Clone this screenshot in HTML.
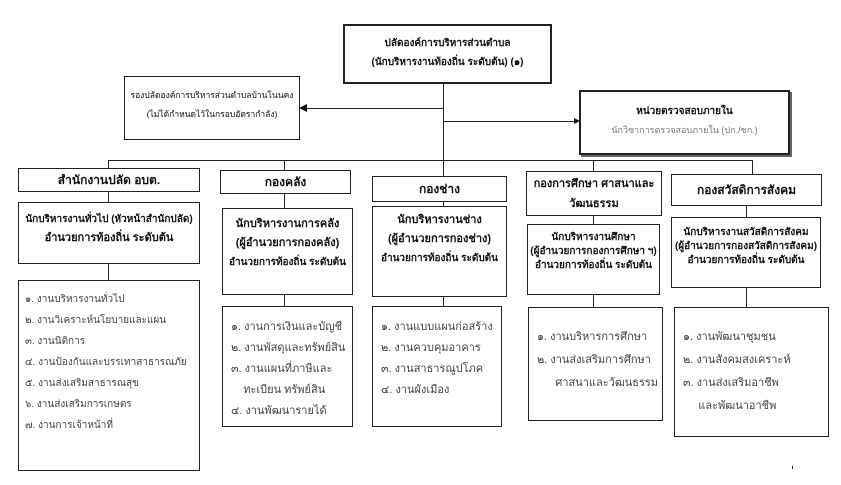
<!DOCTYPE html>
<html><head><meta charset="utf-8"><style>
body{margin:0;width:841px;height:485px;background:#fff;position:relative;overflow:hidden;font-family:"Liberation Sans","DejaVu Sans",sans-serif;color:#111}
.b{position:absolute;border:1.3px solid #222;box-sizing:border-box;background:#fff;text-align:center}
.l{position:absolute;background:#222}
.h{font-weight:bold;font-size:12px}
.t{font-size:10px;font-weight:bold;line-height:14px}
.li{text-align:left;font-size:11px;color:#444;line-height:21px;padding-left:8px;white-space:nowrap}
</style></head><body>
<div class="l" style="left:443px;top:84px;width:1.3px;height:92px"></div>
<div class="l" style="left:302px;top:108px;width:141px;height:1.3px"></div>
<div style="position:absolute;left:299px;top:104px;width:0;height:0;border-top:4.5px solid transparent;border-bottom:4.5px solid transparent;border-right:8px solid #111"></div>
<div class="l" style="left:443px;top:121px;width:132px;height:1px"></div>
<div style="position:absolute;left:574px;top:118px;width:0;height:0;border-top:3.5px solid transparent;border-bottom:3.5px solid transparent;border-left:6px solid #111"></div>
<div class="l" style="left:108px;top:160px;width:645px;height:1.3px"></div>
<div class="l" style="left:108px;top:160px;width:1.3px;height:10px"></div>
<div class="l" style="left:284px;top:160px;width:1.3px;height:12px"></div>
<div class="l" style="left:593px;top:160px;width:1.3px;height:12px"></div>
<div class="l" style="left:752px;top:160px;width:1.3px;height:15px"></div>
<div class="l" style="left:108px;top:190px;width:1.3px;height:92px"></div>
<div class="l" style="left:284px;top:192px;width:1.3px;height:114px"></div>
<div class="l" style="left:443px;top:200px;width:1.3px;height:106px"></div>
<div class="l" style="left:593px;top:214px;width:1.3px;height:94px"></div>
<div class="l" style="left:746px;top:205px;width:1.3px;height:103px"></div>

<div class="b" style="left:343px;top:24px;width:209px;height:60px;border-width:2px;padding-top:8px;font-size:10px;font-weight:bold;line-height:19px">ปลัดองค์การบริหารส่วนตำบล<br>(นักบริหารงานท้องถิ่น ระดับต้น) (๑)</div>
<div class="b" style="left:124px;top:76px;width:176px;height:64px;padding-top:9px;font-size:8.5px;line-height:19px;white-space:nowrap">รองปลัดองค์การบริหารส่วนตำบลบ้านโนนคง<br>(ไม่ได้กำหนดไว้ในกรอบอัตรากำลัง)</div>
<div class="b" style="left:579px;top:90px;width:211px;height:65px;border-width:2px;box-shadow:2px 2px 0 #666;padding-top:10px;font-size:10px;line-height:19px"><b>หน่วยตรวจสอบภายใน</b><br><span style="color:#777;font-size:9px">นักวิชาการตรวจสอบภายใน (ปก./ชก.)</span></div>

<div class="b h" style="left:18px;top:168px;width:182px;height:24px;line-height:22px">สำนักงานปลัด อบต.</div>
<div class="b h" style="left:220px;top:170px;width:131px;height:24px;line-height:22px">กองคลัง</div>
<div class="b h" style="left:372px;top:176px;width:135px;height:26px;line-height:24px">กองช่าง</div>
<div class="b h" style="left:526px;top:171px;width:136px;height:45px;font-size:11px;line-height:20px;padding-top:2px">กองการศึกษา ศาสนาและ<br>วัฒนธรรม</div>
<div class="b h" style="left:671px;top:174px;width:151px;height:32px;line-height:30px">กองสวัสดิการสังคม</div>

<div class="b" style="left:18px;top:202px;width:182px;height:62px;padding-top:7px;font-size:11px;font-weight:bold;line-height:19px"><span style="font-size:10px">นักบริหารงานทั่วไป (หัวหน้าสำนักปลัด)</span><br>อำนวยการท้องถิ่น ระดับต้น</div>
<div class="b" style="left:222px;top:208px;width:131px;height:87px;padding-top:6px;font-weight:bold;font-size:11px;line-height:19px">นักบริหารงานการคลัง<br>(ผู้อำนวยการกองคลัง)<br><span style="font-size:10px">อำนวยการท้องถิ่น ระดับต้น</span></div>
<div class="b" style="left:372px;top:206px;width:135px;height:91px;padding-top:4px;font-weight:bold;font-size:11px;line-height:19px">นักบริหารงานช่าง<br>(ผู้อำนวยการกองช่าง)<br><span style="font-size:10px">อำนวยการท้องถิ่น ระดับต้น</span></div>
<div class="b t" style="left:527px;top:224px;width:133px;height:71px;padding-top:6px">นักบริหารงานศึกษา<br>(ผู้อำนวยการกองการศึกษา ฯ)<br>อำนวยการท้องถิ่น ระดับต้น</div>
<div class="b t" style="left:671px;top:217px;width:150px;height:71px;padding-top:8px">นักบริหารงานสวัสดิการสังคม<br>(ผู้อำนวยการกองสวัสดิการสังคม)<br>อำนวยการท้องถิ่น ระดับต้น</div>

<div class="b li" style="left:18px;top:280px;width:182px;height:191px;padding-top:8px;font-size:10px;padding-left:6px">๑. งานบริหารงานทั่วไป<br>๒. งานวิเคราะห์นโยบายและแผน<br>๓. งานนิติการ<br>๔. งานป้องกันและบรรเทาสาธารณภัย<br>๕. งานส่งเสริมสาธารณสุข<br>๖. งานส่งเสริมการเกษตร<br>๗. งานการเจ้าหน้าที่</div>
<div class="b li" style="left:222px;top:306px;width:131px;height:121px;padding-top:10px">๑. งานการเงินและบัญชี<br>๒. งานพัสดุและทรัพย์สิน<br>๓. งานแผนที่ภาษีและ<br>&nbsp;&nbsp;&nbsp;&nbsp;ทะเบียน ทรัพย์สิน<br>๔. งานพัฒนารายได้</div>
<div class="b li" style="left:372px;top:306px;width:130px;height:121px;padding-top:10px">๑. งานแบบแผนก่อสร้าง<br>๒. งานควบคุมอาคาร<br>๓. งานสาธารณูปโภค<br>๔. งานผังเมือง</div>
<div class="b li" style="left:528px;top:307px;width:135px;height:114px;padding-top:18px;line-height:23px">๑. งานบริหารการศึกษา<br>๒. งานส่งเสริมการศึกษา<br>&nbsp;&nbsp;&nbsp;&nbsp;&nbsp;&nbsp;ศาสนาและวัฒนธรรม</div>
<div class="b li" style="left:674px;top:307px;width:155px;height:130px;padding-top:18px;line-height:23px">๑. งานพัฒนาชุมชน<br>๒. งานสังคมสงเคราะห์<br>๓. งานส่งเสริมอาชีพ<br>&nbsp;&nbsp;&nbsp;&nbsp;&nbsp;และพัฒนาอาชีพ</div>
<div class="l" style="left:792px;top:466px;width:1px;height:3px"></div>
</body></html>
